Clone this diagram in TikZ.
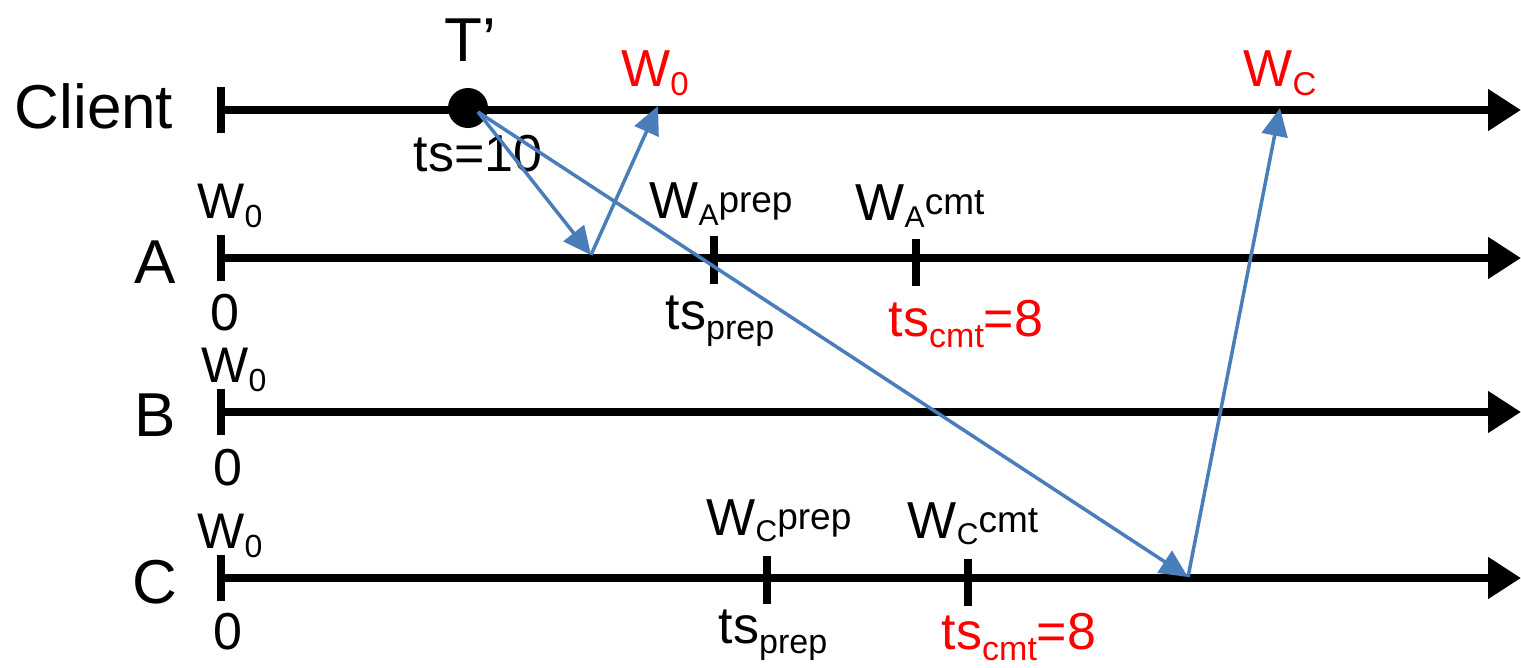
\documentclass[tikz,border=0pt]{standalone}
\usepackage{fontspec}
\setmainfont{Liberation Sans}
\usetikzlibrary{arrows.meta}
\definecolor{msgblue}{HTML}{4A7EBB}
\definecolor{tsred}{HTML}{FF0000}
\newcommand{\fsz}[1]{\fontsize{#1}{#1}\selectfont}
\newcommand{\dn}[3][0.18em]{\raisebox{-#1}{\fsz{#2}#3}}
\newcommand{\up}[2]{\raisebox{0.12em}{\fsz{#1}#2}}

\begin{document}
\begin{tikzpicture}[x=1pt,y=-1pt,
    every node/.style={inner sep=0pt},
    timeline/.style={line width=8pt,-{Triangle[length=33pt,width=40pt]}},
    tickmark/.style={line width=8pt},
    msg/.style={msgblue,line width=3.5pt,-{Triangle[length=28pt,width=26pt]}},
    proc/.style={font=\fsz{62}},
    evt/.style={font=\fsz{52}},
    small/.style={font=\fsz{50}},
    cmtlbl/.style={text=tsred}]
\useasboundingbox (0,0) rectangle (1521,667);

% time lines of client and servers
\foreach \ln/\yy in {cl/110,a/258,b/412,c/578}{
  \coordinate (\ln-0) at (221,\yy);
  \draw[timeline] (\ln-0) -- (1521,\yy);
  \draw[tickmark] ([yshift=23pt]\ln-0) -- ([yshift=-23pt]\ln-0);
}
% prepare and commit marks
\foreach \yy/\xp/\xc in {258/714/916,578/767/968}{
  \draw[tickmark] (\xp,\yy-22) -- (\xp,\yy+26);
  \draw[tickmark] (\xc,\yy-19) -- (\xc,\yy+28);
}

% names
\node[proc] (client) at (94,106) {Client};
\node[proc] (pa) at (155,262) {A};
\node[proc] (pb) at (155,415) {B};
\node[proc] (pc) at (155,582) {C};

% initial writes
\node[small] (a-w0) at (230,206) {W\dn{32}{0}};
\node[evt] (a-ts0) at (225,313) {0};
\node[small] (b-w0) at (234,370) {W\dn{32}{0}};
\node[evt] (b-ts0) at (228,468) {0};
\node[small] (c-w0) at (230,536) {W\dn{32}{0}};
\node[evt] (c-ts0) at (228,632) {0};

% server A
\node[evt] (a-wprep) at (721,204) {W\dn[0.12em]{30}{A}\up{37}{prep}};
\node[evt] (a-wcmt) at (920,206) {W\dn[0.12em]{30}{A}\up{37}{cmt}};
\node[evt] (a-tsprep) at (720,321) {ts\dn[0.2em]{34}{prep}};
\node[evt,cmtlbl] (a-tscmt) at (966,324) {ts\dn[0.2em]{34}{cmt}=8};

% server C
\node[evt] (c-wprep) at (779,521) {W\dn[0.12em]{30}{C}\up{37}{prep}};
\node[evt] (c-wcmt) at (973,524) {W\dn[0.12em]{30}{C}\up{37}{cmt}};
\node[evt] (c-tsprep) at (773,635) {ts\dn[0.2em]{34}{prep}};
\node[evt,cmtlbl] (c-tscmt) at (1019,637) {ts\dn[0.2em]{34}{cmt}=8};

% reading transaction
\node[circle,fill=black,minimum size=40pt] (tx) at (468,108) {};
\node[proc] (txname) at (470,40) {T’};
\node[evt] (txts) at (478,154) {ts=10};
\node[evt,cmtlbl] (w0name) at (655,73) {W\dn{33}{0}};
\node[evt,cmtlbl] (wcname) at (1280,73) {W\dn{33}{C}};

\coordinate (tsend) at (478,112);
\coordinate (arecv) at (591,255);
\coordinate (w0) at (658,106);
\coordinate (crecv) at (1188,577);
\coordinate (wc) at (1280,108);
\draw[msg] (tsend) -- (arecv);
\draw[msg] (arecv) -- (w0);
\draw[msg] (tsend) -- (crecv);
\draw[msg] (crecv) -- (wc);
\end{tikzpicture}
\end{document}
